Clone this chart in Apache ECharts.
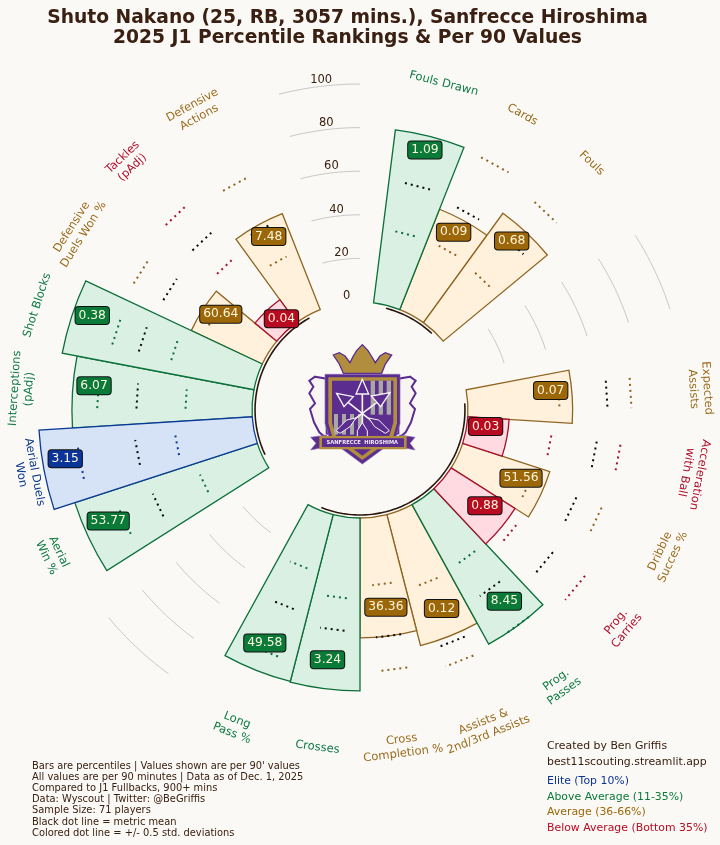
<!DOCTYPE html>
<html><head><meta charset="utf-8">
<style>html,body{margin:0;padding:0;background:#FBF9F5}#c{width:720px;height:845px}</style>
<script src="https://cdn.jsdelivr.net/npm/echarts@6/dist/echarts.min.js"></script>
</head><body><div id="c"></div>
<script>
// 25 slots of 14.4 degrees, clockwise, slot 0 centred 14.4 degrees from the top. null = gap slot.
const metricLabels = ['Fouls Drawn','Cards','Fouls',null,null,'Expected\nAssists','Acceleration\nwith Ball','Dribble\nSucces %','Prog.\nCarries','Prog.\nPasses','Assists &\n2nd/3rd Assists','Cross\nCompletion %','Crosses','Long\nPass %',null,null,'Aerial\nWin %','Aerial Duels\nWon','Interceptions\n(pAdj)','Shot Blocks','Defensive\nDuels Won %','Tackles\n(pAdj)','Defensive\nActions',null,null];
const labelRadii   = [105,105,105.7,null,null,106.7,105.8,105.9,106.2,106.8,107.5,106.1,106.4,106.8,null,null,106.4,105.7,105.8,106.1,103.8,106.2,106.8,null,null];
const percentiles  = [80,49.5,62,null,null,48,19,42,34.7,73,62,55,79.3,79,null,null,88,98,82.6,89.5,36,13,47.3,null,null];
const valueLabels  = ['1.09','0.09','0.68',null,null,'0.07','0.03','51.56','0.88','8.45','0.12','36.36','3.24','49.58',null,null,'53.77','3.15','6.07','0.38','60.64','0.04','7.48',null,null];
const tiers        = ['g','a','a',null,null,'a','r','a','r','g','a','a','g','g',null,null,'g','e','g','g','a','r','a',null,null];
const lowerDots    = [34,34,32.6,null,null,42,39,35,39.5,34,35.3,31,37,27,null,null,29.6,36,30.5,40,30,41,28.5,null,null];
const meanDots     = [56.6,53.5,54,null,null,64,60,57.5,60.4,52,65,55,52,46.7,null,null,53,54.5,53,55.4,53.8,56.6,45,null,null];
const upperDots    = [74,79,75,null,null,75,71,70,78.7,73,74.5,70.5,65,69.6,null,null,70,81,71,68,69.4,73.5,69,null,null];
const radialTicks  = [0,20,40,60,80,100];
const gridArcSpans = [[57.6,72],[216,230.4],[345.6,360]];
const baseArcSpans = [[14.4,43.2],[86.4,201.6],[244.8,331.2]];
const titleText = 'Shuto Nakano (25, RB, 3057 mins.), Sanfrecce Hiroshima\n2025 J1 Percentile Rankings & Per 90 Values';
const noteLines = ["Bars are percentiles | Values shown are per 90' values",'All values are per 90 minutes | Data as of Dec. 1, 2025','Compared to J1 Fullbacks, 900+ mins','Data: Wyscout | Twitter: @BeGriffis','Sample Size: 71 players','Black dot line = metric mean','Colored dot line = +/- 0.5 std. deviations'];
const creditLines = ['Created by Ben Griffis','best11scouting.streamlit.app'];
const legendLines = [['e','Elite (Top 10%)'],['g','Above Average (11-35%)'],['a','Average (36-66%)'],['r','Below Average (Bottom 35%)']];

const FONT = '"DejaVu Sans"';
const INK = '#3a2012';
const STEP = 14.4;
const palette = {
  e:{line:'#0b3a96',fill:'#d6e3f6',box:'#0a3497',text:'#0b3a8e'},
  g:{line:'#0c6f3a',fill:'#d9f0e3',box:'#0a7a38',text:'#0f7a45'},
  a:{line:'#8f6420',fill:'#fff1dc',box:'#9c6708',text:'#9a6b1c'},
  r:{line:'#a8102c',fill:'#ffdbe1',box:'#b80a20',text:'#b0122f'}
};
const slotAngle = i => (i+1)*STEP;

const series = [];
// bars, one series per tier, sharing one column per band
['a','g','r','e'].forEach(t=>{
  series.push({type:'bar',coordinateSystem:'polar',polarIndex:0,stack:'bars',barWidth:'100%',z:2,silent:true,
    data:percentiles.map((p,i)=>tiers[i]===t?p:null),
    itemStyle:{color:palette[t].fill,borderColor:palette[t].line,borderWidth:1.3}});
});
function line(data,color,width,type,z){
  series.push({type:'line',coordinateSystem:'polar',polarIndex:1,data,symbol:'none',silent:true,z,clip:false,
    lineStyle:{color,width,type:type||'solid',cap:'butt'}});
}
function arc(r,a0,a1,color,width,z){
  const n=Math.max(4,Math.round((a1-a0)/1.5)),d=[];
  for(let k=0;k<=n;k++)d.push([r,a0+(a1-a0)*k/n]);
  line(d,color,width,'solid',z);
}
gridArcSpans.forEach(s=>radialTicks.slice(1).forEach(t=>arc(t,s[0],s[1],'#c9c8c4',1,1)));
baseArcSpans.forEach(s=>arc(-1.4,s[0],s[1],'#2b150b',1.6,3));
// dotted reference lines
percentiles.forEach((p,i)=>{
  if(p===null)return;
  const a=slotAngle(i),c=palette[tiers[i]].line;
  [[lowerDots[i],c],[meanDots[i],'#0a0a0a'],[upperDots[i],c]].forEach(d=>{
    line([[d[0],a-3.2],[d[0],a+3.2]],d[1],2,[2,4],4);
  });
});
const hidden={color:'transparent',opacity:1};
// value boxes
series.push({type:'scatter',coordinateSystem:'polar',polarIndex:1,symbolSize:0.1,silent:true,z:6,itemStyle:hidden,
  data:percentiles.map((p,i)=>p===null?null:{value:[p-9.9,slotAngle(i)],
    label:{show:true,position:'inside',offset:[0,-7.5],formatter:valueLabels[i],fontFamily:FONT,fontSize:12.3,color:'#fff6df',
      lineHeight:13,backgroundColor:palette[tiers[i]].box,borderColor:'#111',borderWidth:1,borderRadius:3,padding:[2,3]}}).filter(Boolean)});
// metric labels
series.push({type:'scatter',coordinateSystem:'polar',polarIndex:1,symbolSize:0.1,silent:true,z:6,itemStyle:hidden,
  data:metricLabels.map((m,i)=>{
    if(m===null)return null;
    const a=slotAngle(i);
    const rot=(a>105&&a<270)?180-a:(a>=270?360-a:-a);
    return {value:[labelRadii[i],a],label:{show:true,position:'inside',formatter:m,rotate:rot,
      fontFamily:FONT,fontSize:11.5,lineHeight:14,color:palette[tiers[i]].text}};
  }).filter(Boolean)});
// radial tick labels
series.push({type:'scatter',coordinateSystem:'polar',polarIndex:1,symbolSize:0.1,silent:true,z:6,itemStyle:hidden,
  data:radialTicks.map(t=>({value:[t+3,353.3],label:{show:true,position:'inside',formatter:String(t),fontFamily:FONT,fontSize:11.5,color:INK}}))});

// text blocks
const graphic=[];
noteLines.forEach((s,i)=>graphic.push({type:'text',left:32,top:761+i*11.2,silent:true,style:{text:s,font:'9.9px '+FONT,fill:INK}}));
creditLines.forEach((s,i)=>graphic.push({type:'text',left:547,top:741+i*15.8,silent:true,style:{text:s,font:'10.9px '+FONT,fill:INK}}));
legendLines.forEach((l,i)=>graphic.push({type:'text',left:547,top:776+i*15.5,silent:true,style:{text:l[1],font:'10.9px '+FONT,fill:palette[l[0]].box}}));

// crest (decorative), local units are 3x pixels
const P='#5a2d8f',G='#b18e3e',W='#f7f4f2',GY='#a9a7a4',LP='#8a6ab5';
const poly=(points,fill,stroke,lw)=>({type:'polygon',shape:{points},silent:true,style:{fill:fill||'none',stroke:stroke||null,lineWidth:lw||0}});
const seg=(a,b,stroke,lw)=>({type:'line',shape:{x1:a[0],y1:a[1],x2:b[0],y2:b[1]},silent:true,style:{stroke,lineWidth:lw}});
const wing=s=>{const x=v=>s?375-v:v;return poly([[45,110],[80,116],[80,280],[104,290],[78,294],[58,277],[42,247],[30,207],[45,190],[28,160],[40,140],[28,122]].map(p=>[x(p[0]),p[1]]),W,P,6);};
const arrow=(tail,tip,a,b)=>[seg(tail,tip,W,5),poly([tip,a,b],P,W,4)];
const crest=[
  wing(false),wing(true),
  poly([[130,100],[118,72],[100,45],[118,38],[135,48],[150,68],[160,48],[170,32],[187,14],[204,32],[214,48],[226,68],[240,48],[256,38],[275,45],[256,72],[245,100]],G,P,4),
  poly([[75,103],[300,103],[300,250],[285,300],[187,372],[90,300],[75,250]],P,LP,2),
  poly([[85,112],[291,112],[291,250],[278,295],[187,360],[98,295],[85,250]],G),
  poly([[96,122],[280,122],[280,248],[268,287],[187,347],[108,287],[96,248]],P)
];
[212,236,260].forEach(x=>crest.push({type:'rect',shape:{x,y:122,width:13,height:102},silent:true,style:{fill:GY}}));
[102,126,150,174].forEach(x=>crest.push({type:'rect',shape:{x,y:222,width:12,height:62},silent:true,style:{fill:GY}}));
crest.push(...arrow([187,300],[187,118],[168,162],[206,162]));
crest.push(...arrow([252,272],[110,160],[160,170],[132,200]));
crest.push(...arrow([118,272],[270,158],[214,168],[242,200]));
crest.push(poly([[187,248],[172,272],[172,298],[187,290],[202,298],[202,272]],P,W,3));
crest.push(poly([[108,272],[140,240],[168,234],[150,260],[120,280]],P,W,3));
crest.push(poly([[268,272],[236,240],[206,234],[224,260],[256,280]],P,W,3));
crest.push(poly([[32,292],[80,285],[80,320],[32,330],[48,310]],P,LP,2));
crest.push(poly([[345,292],[298,285],[298,320],[345,330],[330,310]],P,LP,2));
crest.push(poly([[58,288],[320,288],[320,328],[58,328]],G));
crest.push(poly([[66,295],[312,295],[312,321],[66,321]],P));
crest.push({type:'text',silent:true,style:{text:'SANFRECCE  HIROSHIMA',x:187,y:308,align:'center',verticalAlign:'middle',font:'bold 15.5px '+FONT,fill:'#f2edf6'}});
graphic.push({type:'group',x:300,y:340,scaleX:1/3,scaleY:1/3,silent:true,children:crest});

const cats=metricLabels.map((m,i)=>m||('gap'+i));
const AX={show:false,axisLine:{show:false},axisTick:{show:false},axisLabel:{show:false},splitLine:{show:false}};
const chart=echarts.init(document.getElementById('c'),null,{renderer:'canvas'});
chart.setOption({
  animation:false,backgroundColor:'#FBF9F5',
  title:{text:titleText,left:342.5,top:3,textAlign:'center',textStyle:{fontFamily:FONT,fontWeight:'bold',fontSize:18.7,lineHeight:20,color:INK}},
  tooltip:{show:false},
  polar:[{center:[360,410],radius:[86.2,369.6]},{center:[360,410],radius:[86.2,369.6]}],
  angleAxis:[
    Object.assign({polarIndex:0,type:'category',data:cats,startAngle:82.8,boundaryGap:true},AX),
    Object.assign({polarIndex:1,type:'value',min:0,max:360,startAngle:90},AX)
  ],
  radiusAxis:[
    Object.assign({polarIndex:0,type:'value',min:-10,max:120},AX),
    Object.assign({polarIndex:1,type:'value',min:-10,max:120},AX)
  ],
  graphic:{elements:graphic},
  series
});
</script></body></html>
